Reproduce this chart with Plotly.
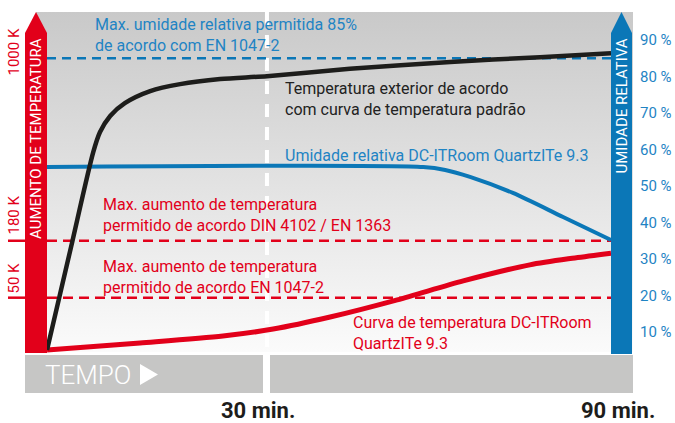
import plotly.graph_objects as go

# ---------------- data (schematic positions) ----------------
# x: schematic time position (0 = start, 100 = 90 min), y: relative humidity scale (%)
black_x = [0, 4.1, 8.2, 9.4, 11.2, 13.8, 18.3, 23.6, 30.7, 39.0, 53.7, 71.5, 87.4, 100]
black_y = [5.1, 32.2, 59.3, 64.8, 69.2, 72.7, 76.0, 77.9, 79.3, 80.1, 82.1, 84.0, 85.3, 86.4]

red_x = [0, 16.5, 31.2, 40.1, 50.2, 62.1, 73.8, 85.6, 93.6, 100]
red_y = [5.1, 7.0, 8.9, 10.8, 14.1, 18.8, 24.0, 28.4, 30.3, 31.6]

blue_x = [0, 66.7, 70.6, 75.0, 82.6, 91.5, 100]
blue_y = [55.2, 55.2, 54.4, 52.5, 48.1, 41.5, 35.2]

humidity_limit = 85
temp_limit_180 = 35
temp_limit_50 = 19.4

rh_ticks = [10, 20, 30, 40, 50, 60, 70, 80, 90]
rh_ticktext = [f"{v} %" for v in rh_ticks]
time_ticks = [39.0, 100]
time_labels = ["30 min.", "90 min."]
temp_labels = ["1000 K", "180 K", "50 K"]

# ---------------- styling helpers ----------------
RED = "#e2001a"
BLUE = "#0b77b7"
BLUE_T = "#1f84c4"
BLACK = "#1d1d1b"
FONT = "Roboto"
TS = 16

X0PX, XS = 47.0, 5.64     # pixel of x=0, pixels per unit
Y0PX, YS = 368.5, 3.65    # pixel of y=0, pixels per unit
L, R, T, B = 25, 633, 12, 393  # plot area in pixels


def px(x):
    return (x - X0PX) / XS


def py(y):
    return (Y0PX - y) / YS


def pxp(x):  # pixel -> paper x
    return (x - L) / (R - L)


def pyp(y):  # pixel -> paper y
    return (B - y) / (B - T)


fig = go.Figure()

# gradient background
fig.add_trace(go.Scatter(
    x=[px(36), px(633), px(633), px(36), px(36)],
    y=[py(12), py(12), py(352), py(352), py(12)],
    mode="lines", fill="toself", line=dict(width=0),
    fillgradient=dict(type="vertical", colorscale=[[0, "#fbfbfb"], [1, "#c9c9c9"]]),
    hoverinfo="skip", showlegend=False,
))

# white dashed vertical (30 min)
fig.add_trace(go.Scatter(
    x=[time_ticks[0], time_ticks[0]], y=[py(12), py(352)], mode="lines",
    line=dict(color="white", width=4, dash="13px,10px"), hoverinfo="skip", showlegend=False,
))

# limit lines
fig.add_trace(go.Scatter(x=[0, 100], y=[humidity_limit] * 2, mode="lines",
                         line=dict(color=BLUE, width=2.5, dash="9px,6px"), showlegend=False))
fig.add_trace(go.Scatter(x=[0, 100], y=[temp_limit_180] * 2, mode="lines",
                         line=dict(color=RED, width=2.5, dash="10px,6px"), showlegend=False))
fig.add_trace(go.Scatter(x=[0, 100], y=[temp_limit_50] * 2, mode="lines",
                         line=dict(color=RED, width=2.5, dash="10px,6px"), showlegend=False))

# curves
fig.add_trace(go.Scatter(x=blue_x, y=blue_y, mode="lines",
                         line=dict(color=BLUE, width=4, shape="spline", smoothing=0.8), showlegend=False))
fig.add_trace(go.Scatter(x=red_x, y=red_y, mode="lines",
                         line=dict(color=RED, width=5, shape="spline", smoothing=0.8), showlegend=False))
fig.add_trace(go.Scatter(x=black_x, y=black_y, mode="lines",
                         line=dict(color=BLACK, width=4.5, shape="spline", smoothing=0.8), showlegend=False))

shapes = []
# red arrow (left)
shapes.append(dict(type="path", xref="x", yref="y", layer="above", line=dict(width=0), fillcolor=RED,
                   path=f"M {px(25)} {py(353)} L {px(25)} {py(33)} L {px(36)} {py(12)} L {px(47)} {py(33)} L {px(47)} {py(353)} Z"))
# blue arrow (right)
shapes.append(dict(type="path", xref="x", yref="y", layer="above", line=dict(width=0), fillcolor=BLUE,
                   path=f"M {px(611)} {py(354)} L {px(611)} {py(33)} L {px(621.5)} {py(12)} L {px(632)} {py(33)} L {px(632)} {py(354)} Z"))
# bottom gray bars
shapes.append(dict(type="rect", xref="x", yref="y", layer="above", line=dict(width=0), fillcolor="#c6c6c5",
                   x0=px(25), x1=px(263), y0=py(355), y1=py(393)))
shapes.append(dict(type="rect", xref="x", yref="y", layer="above", line=dict(width=0), fillcolor="#c6c6c5",
                   x0=px(270), x1=px(633), y0=py(355), y1=py(393)))
# TEMPO triangle
shapes.append(dict(type="path", xref="x", yref="y", layer="above", line=dict(width=0), fillcolor="white",
                   path=f"M {px(140)} {py(364)} L {px(140)} {py(385)} L {px(158)} {py(374.5)} Z"))
# left temperature ticks
for yy in [temp_limit_180, temp_limit_50]:
    shapes.append(dict(type="line", xref="paper", yref="y", layer="above",
                       x0=pxp(8), x1=0, y0=yy, y1=yy, line=dict(color=RED, width=2.5)))

ann = []


def text(x, y, s, color, size=TS, anchor="left", angle=0, family=FONT, weight=None, bold=False):
    f = dict(family=family, size=size, color=color)
    if weight:
        f["weight"] = weight
    if bold:
        s = f"<b>{s}</b>"
    ann.append(dict(x=pxp(x), y=pyp(y), xref="paper", yref="paper", text=s, showarrow=False,
                    xanchor=anchor, yanchor="middle", align="left", textangle=angle, font=f))


text(93, 35, "Max. umidade relativa permitida 85%<br>de acordo com EN 1047-2", BLUE_T)
text(283, 99, "Temperatura exterior de acordo<br>com curva de temperatura padrão", "#222222")
text(283, 155, "Umidade relativa DC-ITRoom QuartzITe 9.3", BLUE_T)
text(101, 215, "Max. aumento de temperatura<br>permitido de acordo DIN 4102 / EN 1363", RED)
text(101, 277, "Max. aumento de temperatura<br>permitido de acordo EN 1047-2", RED)
text(351, 333, "Curva de temperatura DC-ITRoom<br>QuartzITe 9.3", RED)

text(36, 139, "AUMENTO DE TEMPERATURA", "white", size=15, anchor="center", angle=-90)
text(621.5, 106, "UMIDADE RELATIVA", "white", size=15, anchor="center", angle=-90)
for lab, ypix in zip(temp_labels, [52, 215, 278]):
    text(13.5, ypix, lab, RED, size=15, anchor="center", angle=-90)

text(43, 375, "TEMPO", "white", size=26, weight=300)

for lab, xpix in zip(time_labels, [258, 618]):
    text(xpix, 410, lab, BLACK, size=22, anchor="center", bold=True)

fig.update_layout(
    width=675, height=423,
    margin=dict(l=L, r=675 - R, t=T, b=423 - B),
    paper_bgcolor="white", plot_bgcolor="white",
    shapes=shapes, annotations=ann, showlegend=False,
    xaxis=dict(range=[px(L), px(R)], visible=False, fixedrange=True),
    yaxis=dict(range=[py(B), py(T)], side="right", showgrid=False, zeroline=False,
               showline=False, ticks="", tickvals=rh_ticks, ticktext=rh_ticktext,
               ticklabelstandoff=6, tickfont=dict(family=FONT, size=15, color=BLUE_T),
               fixedrange=True, automargin=False),
)

fig.write_html("out.html", config={"displayModeBar": False},
               post_script="document.body.style.margin='0';document.body.style.overflow='hidden';")
